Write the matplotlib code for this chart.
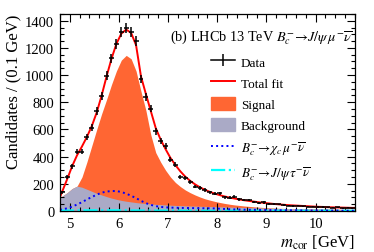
import numpy as np
import matplotlib
matplotlib.use("Agg")
import matplotlib.pyplot as plt
from matplotlib.ticker import MultipleLocator
from matplotlib.lines import Line2D
from matplotlib.patches import Patch

plt.rcParams['font.family'] = ['Liberation Serif', 'DejaVu Serif']
plt.rcParams['mathtext.fontset'] = 'stix'

# bin centres (0.1 GeV bins) and data counts
m_bins = np.round(np.arange(4.85, 10.8, 0.1), 2)
data = [138, 250, 328, 437, 437, 546, 612, 735, 847, 995,
        1124, 1230, 1316, 1345, 1316, 1250, 970, 840, 753, 587,
        513, 475, 378, 340, 250, 242, 217, 180, 168, 155,
        138, 128, 130, 100, 98, 106, 86, 80, 81, 66,
        61, 63, 52, 50, 48, 44, 40, 37, 40, 34,
        32, 33, 29, 30, 27, 25, 26, 20, 24, 21]

# fit curves sampled at 4.8, bin centres, 10.8
m_fit = np.concatenate([[4.8], m_bins, [10.8]])
total_fit = [100, 145, 235, 330, 410, 475, 545, 625, 725, 850, 990,
             1120, 1230, 1305, 1335, 1310, 1220, 990, 860, 735, 610,
             525, 455, 390, 338, 292, 253, 222, 196, 174, 156,
             141, 128, 117, 107, 99, 92, 85, 79, 74, 69,
             64, 60, 56, 52, 49, 46, 43, 41, 39, 37,
             35, 33, 31, 30, 28, 27, 26, 25, 24, 23, 23]
signal_top = [95, 110, 135, 165, 183, 250, 360, 480, 600, 715, 820,
              930, 1030, 1110, 1145, 1120, 1030, 880, 740, 560, 430,
              360, 300, 250, 210, 180, 155, 135, 118, 103, 90,
              80, 71, 63, 56, 50, 45, 41, 37, 34, 31,
              28, 26, 24, 22, 20, 19, 18, 17, 16, 16,
              15, 15, 14, 14, 13, 13, 13, 12, 12, 12, 12]
background = [95, 110, 135, 165, 183, 175, 160, 145, 130, 118, 106,
              95, 86, 78, 72, 67, 62, 58, 55, 52, 49,
              47, 45, 43, 41, 40, 38, 37, 36, 35, 34,
              33, 32, 31, 30, 29, 28, 27, 26, 25, 24,
              23, 22, 21, 20, 19, 19, 18, 17, 17, 16,
              16, 15, 15, 14, 14, 13, 13, 12, 12, 12, 12]
chic = [10, 12, 20, 32, 48, 65, 85, 103, 120, 135, 143,
        147, 147, 140, 128, 112, 95, 75, 58, 45, 36,
        30, 27, 25, 24, 23, 22, 22, 21, 21, 20,
        20, 19, 17, 15, 13, 12, 11, 10, 9, 9,
        8, 8, 7, 7, 6, 6, 5, 5, 5, 4,
        4, 4, 4, 3, 3, 3, 3, 2, 2, 2, 2]
jpsitau = [3, 3, 4, 4, 5, 5, 5, 5, 5, 5, 5,
           5, 5, 5, 5, 4, 4, 4, 4, 3, 3,
           3, 3, 3, 3, 3, 2, 2, 2, 2, 2,
           2, 2, 2, 2, 2, 2, 2, 2, 2, 2,
           2, 2, 2, 2, 2, 2, 2, 2, 2, 2,
           2, 2, 2, 2, 2, 2, 2, 2, 2, 2, 2]

orange = '#ff6633'
grey = '#aaaac6'

fig = plt.figure(figsize=(3.74, 2.53), dpi=100)
ax = fig.add_axes([0.160, 0.162, 0.789, 0.779])

ax.fill_between(m_fit, 0, signal_top, color=orange, lw=0)
ax.fill_between(m_fit, 0, background, color=grey, lw=0)
ax.plot(m_fit, jpsitau, color='cyan', lw=1.6, ls='-.')
ax.plot(m_fit, chic, color='blue', lw=1.4, ls=':')
ax.plot(m_fit, total_fit, color='red', lw=1.4)
ax.errorbar(m_bins, data, xerr=0.05, yerr=np.sqrt(data), fmt='none',
            ecolor='black', elinewidth=1.1, capsize=0)

ax.set_xlim(4.8, 10.8)
ax.set_ylim(0, 1450)
ax.xaxis.set_major_locator(MultipleLocator(1))
ax.xaxis.set_minor_locator(MultipleLocator(0.2))
ax.yaxis.set_major_locator(MultipleLocator(200))
ax.yaxis.set_minor_locator(MultipleLocator(50))
ax.tick_params(which='both', direction='in', top=True, right=True, labelsize=10.5)
ax.tick_params(which='major', length=6, width=0.8, pad=4)
ax.tick_params(which='minor', length=3, width=0.8)
for s in ax.spines.values():
    s.set_linewidth(0.9)

ax.set_ylabel('Candidates / (0.1 GeV)', fontsize=12, loc='top', labelpad=3)
ax.set_xlabel(r'$m_{\rm cor}$ [GeV]', fontsize=12, loc='right', labelpad=2)

ax.text(0.99, 0.885, r'(b) LHCb 13 TeV $B_c^{-}\!\rightarrow\! J/\psi\,\mu^{-}\overline{\nu}$',
        transform=ax.transAxes, ha='right', va='center', fontsize=10.3)

handles = [
    Line2D([], [], color='black', lw=1.1, marker='|', markersize=8, markeredgewidth=1.1),
    Line2D([], [], color='red', lw=1.4),
    Patch(color=orange),
    Patch(color=grey),
    Line2D([], [], color='blue', lw=1.4, ls=':'),
    Line2D([], [], color='cyan', lw=1.6, ls='-.'),
]
labels = ['Data', 'Total fit', 'Signal', 'Background',
          r'$B_c^{-}\!\rightarrow\!\chi_c\,\mu^{-}\overline{\nu}$',
          r'$B_c^{-}\!\rightarrow\! J/\psi\,\tau^{-}\overline{\nu}$']
ax.legend(handles, labels, loc='upper left', bbox_to_anchor=(0.495, 0.82),
          frameon=False, fontsize=9.5, handlelength=1.8, handleheight=1.2,
          labelspacing=0.52, handletextpad=0.45, borderaxespad=0)

fig.savefig('out.png', dpi=100)
